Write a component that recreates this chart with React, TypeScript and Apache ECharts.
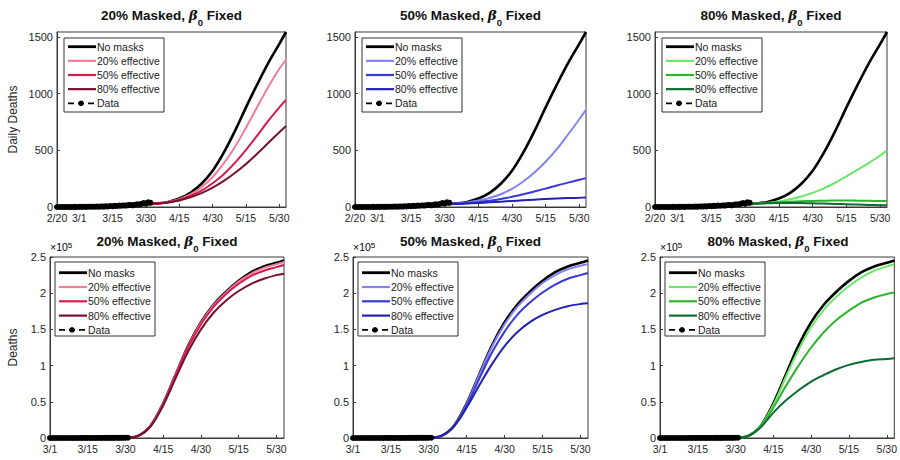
import React, { useEffect, useRef } from "react";
import * as echarts from "echarts";

const FONT = '"Liberation Sans", Arial, Helvetica, sans-serif';

// x values are days since 2/20 (2020)
const TOP_TICK_DAYS = [0, 10, 25, 40, 55, 70, 85, 100];
const TOP_TICK_LABELS = ["2/20", "3/1", "3/15", "3/30", "4/15", "4/30", "5/15", "5/30"];
const BOTTOM_TICK_DAYS = [10, 25, 40, 55, 70, 85, 100];
const BOTTOM_TICK_LABELS = ["3/1", "3/15", "3/30", "4/15", "4/30", "5/15", "5/30"];
const DAILY_Y_TICKS = [0, 500, 1000, 1500];

const SCENARIOS = ["No masks", "20% effective", "50% effective", "80% effective"];
const DATA_LABEL = "Data";
const PANEL_TITLES = ["20% Masked, ", "50% Masked, ", "80% Masked, "];

// observed data
const DAILY_DATA = [
  0, 0, 0, 0, 0, 0, 0, 0, 1, 0,
  1, 1, 2, 1, 2, 3, 2, 3, 4, 3, 5,
  4, 6, 5, 8, 7, 10, 9, 12, 11, 14,
  13, 16, 18, 15, 20, 24, 22, 28, 35, 30, 42, 38,
];
const CUM_DATA_START_DAY = 10;
const CUM_DATA = [
  2, 3, 5, 6, 8, 11, 13, 16, 20, 23, 28, 32, 38, 43, 51, 58, 68, 77, 89, 100,
  114, 127, 143, 161, 176, 196, 220, 242, 270, 305, 335, 377,
];

// model output days
const MODEL_DAYS = [40, 45, 50, 55, 60, 65, 70, 75, 80, 85, 90, 95, 100, 103];

// daily deaths
const DAILY_NO_MASKS = [25, 32, 45, 75, 125, 205, 320, 480, 670, 880, 1080, 1270, 1440, 1545];
const DAILY_M20_E20 = [25, 32, 44, 70, 112, 175, 265, 385, 530, 700, 880, 1060, 1220, 1300];
const DAILY_M20_E50 = [25, 31, 42, 64, 98, 145, 210, 290, 390, 505, 630, 760, 880, 945];
const DAILY_M20_E80 = [25, 30, 40, 58, 86, 122, 170, 230, 300, 380, 470, 565, 660, 715];
const DAILY_M50_E20 = [25, 30, 40, 57, 80, 113, 160, 225, 305, 400, 510, 640, 775, 860];
const DAILY_M50_E50 = [25, 28, 33, 42, 55, 70, 90, 112, 137, 162, 190, 215, 240, 255];
const DAILY_M50_E80 = [25, 27, 30, 35, 41, 47, 53, 59, 65, 70, 75, 79, 82, 84];
const DAILY_M80_E20 = [25, 30, 37, 48, 68, 93, 125, 165, 215, 270, 330, 390, 455, 500];
const DAILY_M80_E50 = [25, 30, 36, 42, 47, 51, 54, 56, 57, 57, 56, 55, 53, 52];
const DAILY_M80_E80 = [25, 29, 33, 35, 36, 35, 33, 30, 27, 24, 21, 18, 16, 15];

// cumulative deaths (x 10^5)
const CUM_NO_MASKS = [0.005, 0.03, 0.17, 0.48, 0.88, 1.28, 1.6, 1.84, 2.02, 2.17, 2.29, 2.37, 2.42, 2.45];
const CUM_M20_E20 = [0.005, 0.03, 0.17, 0.48, 0.88, 1.27, 1.59, 1.83, 2.01, 2.16, 2.27, 2.35, 2.4, 2.43];
const CUM_M20_E50 = [0.005, 0.03, 0.17, 0.47, 0.87, 1.26, 1.57, 1.81, 1.99, 2.13, 2.24, 2.31, 2.36, 2.39];
const CUM_M20_E80 = [0.005, 0.03, 0.16, 0.45, 0.83, 1.2, 1.5, 1.73, 1.9, 2.03, 2.13, 2.2, 2.25, 2.27];
const CUM_M50_E20 = [0.005, 0.03, 0.17, 0.47, 0.87, 1.26, 1.57, 1.81, 1.99, 2.14, 2.25, 2.33, 2.38, 2.4];
const CUM_M50_E50 = [0.005, 0.03, 0.17, 0.45, 0.82, 1.18, 1.47, 1.7, 1.87, 2.01, 2.12, 2.2, 2.25, 2.28];
const CUM_M50_E80 = [0.005, 0.03, 0.16, 0.42, 0.73, 1.02, 1.27, 1.46, 1.6, 1.7, 1.77, 1.82, 1.85, 1.86];
const CUM_M80_E20 = [0.005, 0.03, 0.17, 0.46, 0.85, 1.22, 1.53, 1.77, 1.95, 2.1, 2.22, 2.31, 2.37, 2.4];
const CUM_M80_E50 = [0.005, 0.03, 0.16, 0.42, 0.72, 1.0, 1.25, 1.46, 1.63, 1.76, 1.87, 1.94, 1.99, 2.01];
const CUM_M80_E80 = [0.005, 0.03, 0.15, 0.35, 0.52, 0.66, 0.78, 0.87, 0.95, 1.01, 1.05, 1.08, 1.09, 1.1];

const PALETTES = [
  ["#000000", "#f27d98", "#d81b4e", "#74122f"],
  ["#000000", "#8484f0", "#3838d6", "#2222b2"],
  ["#000000", "#6ce86c", "#2cb52c", "#0e6b32"],
];

const TOP_GRIDS = [
  { left: 57, top: 32, width: 229, height: 175 },
  { left: 355, top: 32, width: 231, height: 175 },
  { left: 655, top: 32, width: 232, height: 175 },
];
const BOTTOM_GRIDS = [
  { left: 50, top: 257, width: 234, height: 181 },
  { left: 353, top: 257, width: 235, height: 181 },
  { left: 660, top: 257, width: 236, height: 181 },
];

function legendGraphic(x: number, y: number, firstRow: number, rowGap: number, palette: string[]) {
  const children: any[] = [
    {
      type: "rect",
      shape: { x: 0, y: 0, width: 100, height: 74 },
      style: { fill: "#fff", stroke: "#333", lineWidth: 1 },
    },
  ];
  const labels = [...SCENARIOS, DATA_LABEL];
  labels.forEach((lab, k) => {
    const cy = firstRow + k * rowGap;
    if (k < SCENARIOS.length) {
      children.push({
        type: "line",
        shape: { x1: 4, y1: cy, x2: 32, y2: cy },
        style: { stroke: palette[k], lineWidth: k === 0 ? 2.8 : 2.2 },
      });
    } else {
      children.push({
        type: "line",
        shape: { x1: 4, y1: cy, x2: 32, y2: cy },
        style: { stroke: "#000", lineWidth: 1.8, lineDash: [6, 4] },
      });
      children.push({
        type: "circle",
        shape: { cx: 17, cy, r: 2.8 },
        style: { fill: "#000" },
      });
    }
    children.push({
      type: "text",
      x: 33,
      y: cy,
      style: {
        text: lab,
        fontFamily: FONT,
        fontSize: 10.5,
        fill: "#222",
        verticalAlign: "middle",
        align: "left",
      },
    });
  });
  return { type: "group", x, y, z: 100, children };
}

function buildOption() {
  const dailySets = [
    [DAILY_NO_MASKS, DAILY_M20_E20, DAILY_M20_E50, DAILY_M20_E80],
    [DAILY_NO_MASKS, DAILY_M50_E20, DAILY_M50_E50, DAILY_M50_E80],
    [DAILY_NO_MASKS, DAILY_M80_E20, DAILY_M80_E50, DAILY_M80_E80],
  ];
  const cumSets = [
    [CUM_NO_MASKS, CUM_M20_E20, CUM_M20_E50, CUM_M20_E80],
    [CUM_NO_MASKS, CUM_M50_E20, CUM_M50_E50, CUM_M50_E80],
    [CUM_NO_MASKS, CUM_M80_E20, CUM_M80_E50, CUM_M80_E80],
  ];
  const grids: any[] = [];
  const xAxes: any[] = [];
  const yAxes: any[] = [];
  const series: any[] = [];
  const titles: any[] = [];
  const graphics: any[] = [];

  const axisCommon = {
    axisLine: { show: true, lineStyle: { color: "#3a3a3a", width: 1 } },
    axisTick: { show: true, inside: true, length: 3, lineStyle: { color: "#3a3a3a" } },
    splitLine: { show: false },
  };
  const labelStyle = { fontFamily: FONT, fontSize: 10.5, color: "#262626" };

  const titleRich = {
    t: { fontFamily: FONT, fontWeight: "bold", fontSize: 13.5, color: "#111", verticalAlign: "top" },
    b: { fontFamily: "DejaVu Serif, serif", fontStyle: "italic", fontWeight: "bold", fontSize: 13.5, color: "#111", verticalAlign: "top" },
    s: { fontFamily: FONT, fontWeight: "bold", fontSize: 9.5, color: "#111", lineHeight: 19, verticalAlign: "bottom" },
  };

  const allGrids = [...TOP_GRIDS, ...BOTTOM_GRIDS];
  allGrids.forEach((g, idx) => {
    const isTop = idx < 3;
    const p = idx % 3;
    grids.push({ ...g, show: true, borderColor: "#3a3a3a", borderWidth: 1, backgroundColor: "#fff", containLabel: false });
    const tickDays = isTop ? TOP_TICK_DAYS : BOTTOM_TICK_DAYS;
    const tickLabels = isTop ? TOP_TICK_LABELS : BOTTOM_TICK_LABELS;
    xAxes.push({
      type: "value",
      gridIndex: idx,
      min: isTop ? 0 : 10,
      max: 103,
      ...axisCommon,
      axisTick: { ...axisCommon.axisTick, customValues: tickDays },
      axisLabel: {
        ...labelStyle,
        margin: 5,
        customValues: tickDays,
        formatter: (v: number) => {
          const i = tickDays.indexOf(Math.round(v));
          return i >= 0 ? tickLabels[i] : "";
        },
      },
    });
    yAxes.push({
      type: "value",
      gridIndex: idx,
      min: 0,
      max: isTop ? 1545 : 2.5,
      interval: isTop ? 500 : 0.5,
      ...axisCommon,
      axisTick: isTop ? { ...axisCommon.axisTick, customValues: DAILY_Y_TICKS } : axisCommon.axisTick,
      axisLabel: isTop
        ? { ...labelStyle, fontSize: 11, margin: 4, customValues: DAILY_Y_TICKS, formatter: (v: number) => String(v) }
        : { ...labelStyle, fontSize: 11, margin: 4, formatter: (v: number) => String(v) },
      name: idx === 0 ? "Daily Deaths" : idx === 3 ? "Deaths" : "",
      nameLocation: "middle",
      nameGap: idx === 0 ? 38 : 31,
      nameTextStyle: { fontFamily: FONT, fontSize: 12, color: "#262626" },
    });

    const sets = isTop ? dailySets[p] : cumSets[p];
    sets.forEach((vals, k) => {
      series.push({
        type: "line",
        name: `${SCENARIOS[k]}|${idx}`,
        xAxisIndex: idx,
        yAxisIndex: idx,
        data: vals.map((v, j) => [MODEL_DAYS[j], v]),
        smooth: 0.35,
        symbol: "none",
        showSymbol: false,
        lineStyle: { color: PALETTES[p][k], width: k === 0 ? 2.6 : 2 },
        itemStyle: { color: PALETTES[p][k] },
        z: k === 0 ? 3 : 4,
      });
    });
    series.push({
      type: "line",
      name: `${DATA_LABEL}|${idx}`,
      xAxisIndex: idx,
      yAxisIndex: idx,
      data: isTop
        ? DAILY_DATA.map((v, j) => [j, v])
        : CUM_DATA.map((v, j) => [CUM_DATA_START_DAY + j, v / 100000]),
      symbol: "circle",
      symbolSize: 6,
      showSymbol: true,
      lineStyle: { color: "#000", width: 3, type: "dashed" },
      itemStyle: { color: "#000" },
      z: 5,
    });
    graphics.push(
      isTop
        ? legendGraphic(g.left + 7, g.top + 6, 8.7, 14.15, PALETTES[p])
        : legendGraphic(g.left + 5, g.top + 5, 10.7, 14.3, PALETTES[p])
    );
    titles.push({
      text: `{t|${PANEL_TITLES[p]}}{b|β}{s|0}{t| Fixed}`,
      left: g.left + g.width / 2,
      textAlign: "center",
      top: isTop ? 8 : 234,
      padding: 0,
      textStyle: { rich: titleRich },
    });
    if (!isTop) {
      graphics.push({
        type: "text",
        left: g.left,
        top: g.top - 16,
        style: {
          text: "{a|×10}{p|5}",
          rich: {
            a: { fontFamily: FONT, fontSize: 10.5, color: "#262626", lineHeight: 18, verticalAlign: "top" },
            p: { fontFamily: FONT, fontSize: 8, color: "#262626", lineHeight: 10, verticalAlign: "top" },
          },
        },
      });
    }
  });

  return {
    animation: false,
    backgroundColor: "#fff",
    title: titles,
    grid: grids,
    xAxis: xAxes,
    yAxis: yAxes,
    series,
    graphic: graphics,
  };
}

export default function App() {
  const ref = useRef<HTMLDivElement>(null);
  useEffect(() => {
    if (!ref.current) return;
    const chart = echarts.init(ref.current, null, { renderer: "svg" });
    chart.setOption(buildOption() as any);
    return () => chart.dispose();
  }, []);
  return (
    <div
      ref={ref}
      style={{ position: "fixed", left: 0, top: 0, width: 900, height: 460, background: "#fff" }}
    />
  );
}
